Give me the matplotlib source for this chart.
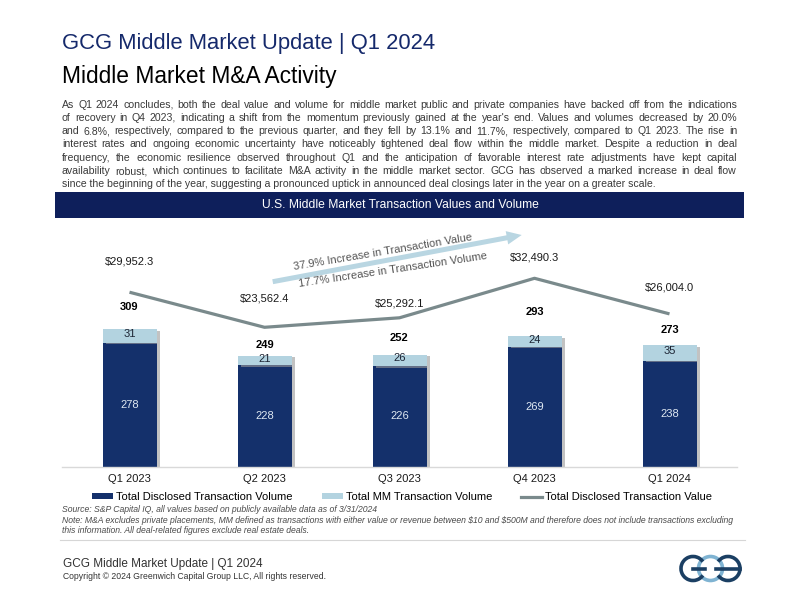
import matplotlib
matplotlib.use('Agg')
import matplotlib.pyplot as plt
from matplotlib.transforms import Affine2D
from matplotlib.patches import Rectangle, FancyArrow, Arc, Patch
from matplotlib.lines import Line2D
import matplotlib.patheffects as pe
import numpy as np

# ---------------- data ----------------
categories = ["Q1 2023", "Q2 2023", "Q3 2023", "Q4 2023", "Q1 2024"]
disclosed_volume = [278, 228, 226, 269, 238]
mm_volume = [31, 21, 26, 24, 35]
total_volume = [309, 249, 252, 293, 273]
disclosed_value = [29952.3, 23562.4, 25292.1, 32490.3, 26004.0]
value_labels = ["$29,952.3", "$23,562.4", "$25,292.1", "$32,490.3", "$26,004.0"]
series_names = ["Total Disclosed Transaction Volume", "Total MM Transaction Volume",
                "Total Disclosed Transaction Value"]

title = "GCG Middle Market Update | Q1 2024"
subtitle = "Middle Market M&A Activity"
paragraph_lines = [
    "As Q1 2024 concludes, both the deal value and volume for middle market public and private companies have backed off from the indications",
    "of recovery in Q4 2023, indicating a shift from the momentum previously gained at the year's end. Values and volumes decreased by 20.0%",
    "and 6.8%, respectively, compared to the previous quarter, and they fell by 13.1% and 11.7%, respectively, compared to Q1 2023. The rise in",
    "interest rates and ongoing economic uncertainty have noticeably tightened deal flow within the middle market. Despite a reduction in deal",
    "frequency, the economic resilience observed throughout Q1 and the anticipation of favorable interest rate adjustments have kept capital",
    "availability robust, which continues to facilitate M&A activity in the middle market sector. GCG has observed a marked increase in deal flow",
    "since the beginning of the year, suggesting a pronounced uptick in announced deal closings later in the year on a greater scale.",
]
chart_title = "U.S. Middle Market Transaction Values and Volume"
arrow_text_top = "37.9% Increase in Transaction Value"
arrow_text_bottom = "17.7% Increase in Transaction Volume"
source_lines = [
    "Source: S&P Capital IQ, all values based on publicly available data as of 3/31/2024",
    "Note: M&A excludes private placements, MM defined as transactions with either value or revenue between $10 and $500M and therefore does not include transactions excluding",
    "this information. All deal-related figures exclude real estate deals.",
]
footer_title = "GCG Middle Market Update | Q1 2024"
footer_copy = "Copyright \u00a9 2024 Greenwich Capital Group LLC, All rights reserved."

# label offsets (pixels above mark)
total_offsets = [22.6, 11, 16.3, 24.7, 15.3]
value_offsets = [30.5, 28.3, 14.5, 21, 26.6]

# ---------------- style ----------------
NAVY = "#14306b"
BAR_LIGHT = "#b3d3e0"
LINE_GRAY = "#7a8a8c"
TITLE_NAVY = "#15296b"
HEADER_NAVY = "#0e1f5b"
ARROW_BLUE = "#b9d6e2"
PARA = "#3a3a3a"

W, H = 800, 600
plt.rcParams['font.family'] = ['Liberation Sans', 'DejaVu Sans']
fig = plt.figure(figsize=(8, 6), dpi=100)
fig.patch.set_facecolor("white")
T = Affine2D().scale(1 / W, -1 / H).translate(0, 1) + fig.transFigure
R = fig.canvas.get_renderer()


def measure(s, size, **kw):
    t = fig.text(0, 0, s, fontsize=size, parse_math=False, **kw)
    w = t.get_window_extent(R).width
    t.remove()
    return w


def fit(s, target, size=8, **kw):
    for _ in range(3):
        size = size * target / measure(s, size, **kw)
    return size


def txt(x, y, s, size=10, width=None, **kw):
    if width is not None:
        style_kw = {k: v for k, v in kw.items() if k in ('style', 'fontweight', 'weight')}
        size = fit(s, width, size, **style_kw)
    return fig.text(x, y, s, transform=T, fontsize=size, parse_math=False, **kw)


# ---------------- titles ----------------
txt(62, 49.3, title, 16, width=376, color=TITLE_NAVY, va='baseline')
txt(62, 82.7, subtitle, 16, width=275, color="black", va='baseline')

# ---------------- paragraph (justified) ----------------
p_size = fit(paragraph_lines[-1], 605, 7.5)
for i, line in enumerate(paragraph_lines):
    yb = 107.5 + 13.33 * i
    last = i == len(paragraph_lines) - 1
    if last:
        txt(62, yb, line, p_size, color=PARA, va='baseline')
        continue
    words = line.split(" ")
    full_w = measure(line, p_size)
    extra = (675 - full_w) / (len(words) - 1)
    for k, wd in enumerate(words):
        prefix = " ".join(words[:k + 1])
        xk = measure(prefix, p_size) - measure(wd, p_size)
        txt(62 + xk + k * extra, yb, wd, p_size, color=PARA, va='baseline')

# ---------------- header bar ----------------
fig.patches.append(Rectangle((55, 192.3), 689, 25.4, transform=T, facecolor=HEADER_NAVY,
                             edgecolor="none"))
txt(400, 205.5, chart_title, 9, width=278, color="white", ha='center', va='center')

# ---------------- chart ----------------
base_y = 466.7
top_y = 225.0
ax = fig.add_axes([62 / W, (H - base_y) / H, 675 / W, (base_y - top_y) / H])
ax.set_facecolor("none")
x = np.arange(len(categories))
px_per_unit = 0.4447
ax.set_xlim(-0.5, len(categories) - 0.5)
ax.set_ylim(0, (base_y - top_y) / px_per_unit)

shadow = [pe.SimplePatchShadow(offset=(2.2, -1), shadow_rgbFace="#9a9a9a", alpha=0.6), pe.Normal()]
b1 = ax.bar(x, disclosed_volume, 0.4, color=NAVY, zorder=2)
b2 = ax.bar(x, mm_volume, 0.4, bottom=disclosed_volume, color=BAR_LIGHT, zorder=2)
for b in list(b1) + list(b2):
    b.set_path_effects(shadow)

for xi, dv, mv, tv, off in zip(x, disclosed_volume, mm_volume, total_volume, total_offsets):
    ax.annotate(str(dv), xy=(xi, dv / 2), ha='center', va='center', fontsize=8,
                color="#dfe8f2", zorder=4)
    ax.annotate(str(mv), xy=(xi, dv + mv / 2), xytext=(0, 2), textcoords='offset pixels',
                ha='center', va='center', fontsize=8, color="#1c2433", zorder=4)
    ax.annotate(str(tv), xy=(xi, tv), xytext=(0, off), textcoords='offset pixels',
                ha='center', va='center', fontsize=8, fontweight='bold', color="black", zorder=4)

for s in ["top", "right", "left"]:
    ax.spines[s].set_visible(False)
ax.spines["bottom"].set_color("#d9d9d9")
ax.spines["bottom"].set_linewidth(1.0)
ax.set_yticks([])
ax.set_xticks(x)
ax.set_xticklabels(categories, fontsize=8, color="#1a1a1a")
ax.tick_params(axis='x', length=0, pad=5.5)

ax2 = ax.twinx()
v_px = 0.005488
ax2.set_ylim(-10.1 / v_px, (456.6 - top_y) / v_px)
ax2.plot(x, disclosed_value, color=LINE_GRAY, lw=2.3, zorder=3, solid_capstyle='butt')
for xi, v, lab, off in zip(x, disclosed_value, value_labels, value_offsets):
    ax2.annotate(lab, xy=(xi, v), xytext=(0, off), textcoords='offset pixels',
                 ha='center', va='center', fontsize=8, color="#1a1a1a")
ax2.axis('off')

# ---------------- arrow annotation ----------------
fig.patches.append(FancyArrow(272.7, 281.7, 249, -46.7, width=5, head_width=13.5,
                              head_length=15, length_includes_head=True, transform=T,
                              facecolor=ARROW_BLUE, edgecolor="none"))
txt(383, 251.7, arrow_text_top, 8, color="#555555", ha='center', va='center',
    rotation=9.5, rotation_mode='anchor')
txt(393.3, 270.0, arrow_text_bottom, 8, color="#555555", ha='center', va='center',
    rotation=8.5, rotation_mode='anchor')

# ---------------- legend ----------------
handles = [Patch(facecolor=NAVY, edgecolor="none"),
           Patch(facecolor=BAR_LIGHT, edgecolor="none"),
           Line2D([0], [0], color=LINE_GRAY, lw=2.3)]
leg_size = fit(series_names[0], 176, 8)
fig.legend(handles, series_names, loc='center', bbox_to_anchor=(402 / W, 1 - 497 / H),
           ncol=3, frameon=False, fontsize=leg_size, handlelength=1.9, handleheight=0.4,
           handletextpad=0.25, columnspacing=2.6, borderpad=0)

# ---------------- source / notes ----------------
n_size = fit(source_lines[1], 675, 6.5, style='italic')
for i, line in enumerate(source_lines):
    txt(62.5, 510 + 10.4 * i, line, n_size, color="#4a4a4a", style='italic', va='center')

# ---------------- footer ----------------
fig.add_artist(Line2D([60, 745], [540, 540], transform=T, color="#d6d6d6", lw=0.8))
txt(63, 564, footer_title, 10, width=201, color="#333333", va='center')
txt(63, 576.5, footer_copy, 7, width=262, color="#333333", va='center')

# logo
DARK = "#1b3f63"
LIGHTB = "#7fb3d2"
r = 12.0
lw_logo = 2.6
fig.patches.append(Arc((710.5, 568.5), 2 * r, 2 * r, transform=T, color=LIGHTB, lw=lw_logo))
fig.patches.append(Arc((693, 568.5), 2 * r, 2 * r, theta1=35, theta2=325, transform=T,
                       color=DARK, lw=lw_logo))
fig.add_artist(Line2D([693, 705], [568.5, 568.5], transform=T, color=DARK, lw=lw_logo))
fig.patches.append(Arc((728, 568.5), 2 * r, 2 * r, theta1=-145, theta2=145, transform=T,
                       color=DARK, lw=lw_logo))
fig.add_artist(Line2D([716, 740], [568.5, 568.5], transform=T, color=DARK, lw=lw_logo))

fig.savefig("out.png", dpi=100, facecolor="white")
